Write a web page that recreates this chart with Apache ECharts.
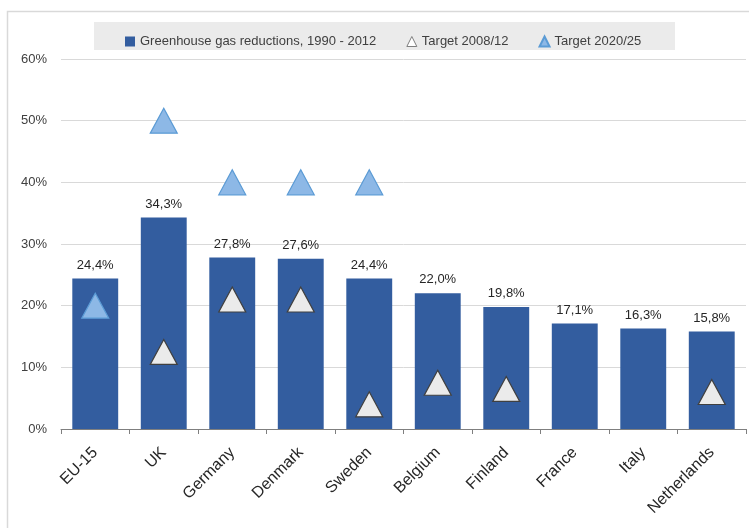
<!DOCTYPE html>
<html>
<head>
<meta charset="utf-8">
<script src="https://cdn.jsdelivr.net/npm/echarts@6/dist/echarts.min.js"></script>
<style>html,body{margin:0;padding:0;background:#fff;}#c{width:749px;height:528px;}</style>
</head>
<body>
<div id="c"></div>
<script>
const categories = ['EU-15','UK','Germany','Denmark','Sweden','Belgium','Finland','France','Italy','Netherlands'];
const reductions = [24.4, 34.3, 27.8, 27.6, 24.4, 22.0, 19.8, 17.1, 16.3, 15.8];
const target0812 = [null, 12.5, 21, 21, 4, 7.5, 6.5, null, null, 6];
const target2025 = [20, 50, 40, 40, 40, null, null, null, null, null];
const yTicks = [0, 10, 20, 30, 40, 50, 60];

const FONT = 'Liberation Sans';
const chart = echarts.init(document.getElementById('c'), null, {renderer: 'canvas'});
chart.setOption({
  animation: false,
  textStyle: {fontFamily: FONT},
  graphic: [
    {type: 'rect', z: -10, shape: {x: 7.5, y: 11.5, width: 760, height: 540}, style: {fill: 'none', stroke: '#D9D9D9', lineWidth: 1.5}},
    {type: 'rect', z: -5, shape: {x: 94, y: 22, width: 581, height: 28}, style: {fill: '#EBEBEB'}}
  ],
  legend: {
    left: 120, top: 30, itemGap: 30, itemWidth: 10, itemHeight: 10,
    textStyle: {fontFamily: FONT, fontSize: 13, color: '#404040'},
    data: [
      {name: 'Greenhouse gas reductions, 1990 - 2012', icon: 'rect'},
      {name: 'Target 2008/12', icon: 'triangle', itemStyle: {color: '#FFFFFF', borderColor: '#7F7F7F', borderWidth: 1}},
      {name: 'Target 2020/25', icon: 'triangle'}
    ]
  },
  grid: {left: 61, right: 3, top: 59, bottom: 99},
  xAxis: {
    type: 'category', data: categories,
    axisLine: {lineStyle: {color: '#7F7F7F'}},
    axisTick: {show: true, length: 5, lineStyle: {color: '#7F7F7F'}},
    axisLabel: {rotate: 45, fontSize: 16, color: '#262626', fontFamily: FONT, interval: 0, margin: 21}
  },
  yAxis: {
    type: 'value', min: yTicks[0], max: yTicks[yTicks.length - 1], interval: 10,
    axisLine: {show: false}, axisTick: {show: false},
    splitLine: {lineStyle: {color: '#D9D9D9'}},
    axisLabel: {formatter: '{value}%', fontSize: 13, color: '#404040', fontFamily: FONT, margin: 14}
  },
  series: [
    {
      name: 'Greenhouse gas reductions, 1990 - 2012', type: 'bar', data: reductions,
      barWidth: '67%',
      itemStyle: {color: '#335D9F'},
      label: {show: true, position: 'top', distance: 7, fontSize: 13, color: '#262626', fontFamily: FONT,
        formatter: p => p.value.toFixed(1).replace('.', ',') + '%'}
    },
    {
      name: 'Target 2008/12', type: 'scatter', data: target0812, z: 5,
      symbol: 'triangle', symbolSize: [27, 25],
      itemStyle: {color: '#EBEBEB', borderColor: '#404040', borderWidth: 1.2, opacity: 1}
    },
    {
      name: 'Target 2020/25', type: 'scatter', data: target2025, z: 5,
      symbol: 'triangle', symbolSize: [27, 25],
      itemStyle: {color: '#8DB8E6', borderColor: '#5B9BD5', borderWidth: 1.2, opacity: 1}
    }
  ]
});
</script>
</body>
</html>
